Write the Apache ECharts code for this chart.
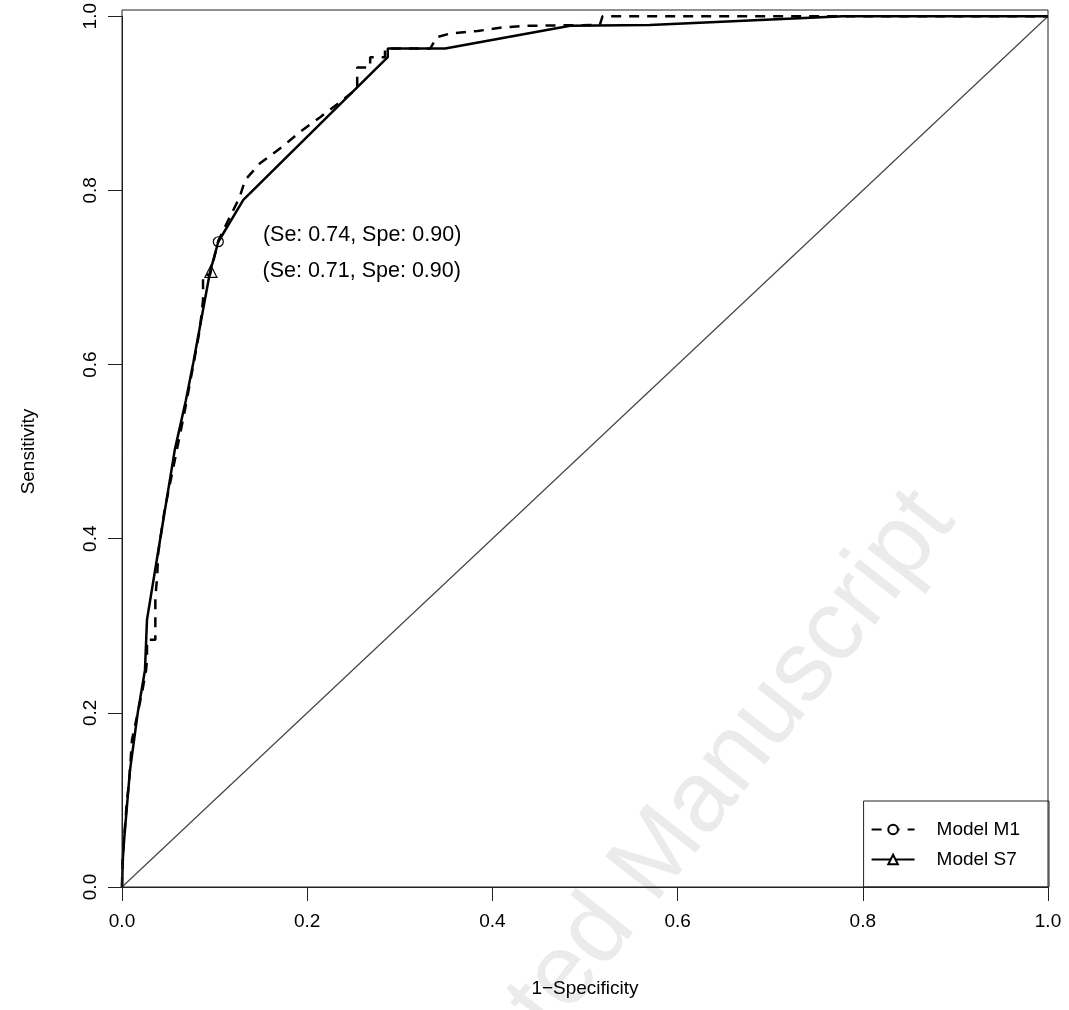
<!DOCTYPE html>
<html>
<head>
<meta charset="utf-8">
<script src="https://cdn.jsdelivr.net/npm/echarts@6/dist/echarts.min.js"></script>
<style>
  html, body { margin: 0; padding: 0; background: #fff; }
  #main { width: 1069px; height: 1010px; }
</style>
</head>
<body>
<div id="main"></div>
<script>
var myChart = echarts.init(document.getElementById('main'));

// tick labels
var xTicks = [0, 0.2, 0.4, 0.6, 0.8, 1.0];
var yTicks = [0, 0.2, 0.4, 0.6, 0.8, 1.0];

// ROC curve of Model M1 (dashed): [1-specificity, sensitivity]
var rocM1 = [
  [0, 0], [0.0005, 0.031], [0.0054, 0.10], [0.0076, 0.119], [0.0108, 0.169],
  [0.0216, 0.223], [0.026, 0.249], [0.027, 0.261], [0.027, 0.284], [0.036, 0.284],
  [0.036, 0.333], [0.038, 0.356], [0.039, 0.383], [0.046, 0.433], [0.057, 0.49],
  [0.068, 0.548], [0.078, 0.605], [0.084, 0.64], [0.0875, 0.674], [0.0875, 0.703],
  [0.095, 0.703], [0.104, 0.742], [0.113, 0.762], [0.127, 0.792], [0.133, 0.812],
  [0.149, 0.831], [0.173, 0.850], [0.192, 0.867], [0.214, 0.884], [0.235, 0.901],
  [0.254, 0.917], [0.254, 0.941], [0.268, 0.941], [0.268, 0.953], [0.284, 0.953],
  [0.284, 0.963], [0.333, 0.963], [0.340, 0.976], [0.354, 0.980], [0.384, 0.983],
  [0.410, 0.987], [0.435, 0.989], [0.516, 0.990], [0.519, 1.0], [1, 1]
];

// ROC curve of Model S7 (solid)
var rocS7 = [
  [0, 0], [0.001, 0.034], [0.0025, 0.057], [0.0086, 0.134], [0.017, 0.20],
  [0.0248, 0.249], [0.027, 0.307], [0.041, 0.398], [0.057, 0.502], [0.069, 0.559],
  [0.077, 0.602], [0.095, 0.706], [0.104, 0.741], [0.131, 0.789], [0.287, 0.953],
  [0.287, 0.963], [0.349, 0.963], [0.484, 0.989], [0.570, 0.990], [0.779, 1.0],
  [1, 1]
];

// chance line
var chance = [[0, 0], [1, 1]];

// best thresholds
var thrM1 = [0.104, 0.741];
var thrS7 = [0.096, 0.707];
var thrM1Text = '(Se: 0.74, Spe: 0.90)';
var thrS7Text = '(Se: 0.71, Spe: 0.90)';

var font = 'Liberation Sans, Arial, Helvetica, sans-serif';

option = {
  animation: false,
  backgroundColor: '#fff',
  textStyle: { fontFamily: font },
  grid: { left: 122, right: 21, top: 16, bottom: 123 },
  graphic: [
    {
      type: 'text',
      z: -10,
      x: 935, y: 504,
      rotation: 0.904,
      style: {
        text: 'Accepted Manuscript',
        font: '100px ' + font,
        fill: '#ebebeb',
        align: 'right',
        verticalAlign: 'middle'
      }
    },
    {
      type: 'rect',
      z: 100,
      shape: { x: 122, y: 10, width: 926, height: 877 },
      style: { fill: 'none', stroke: '#222', lineWidth: 1 }
    }
  ],
  legend: {
    orient: 'vertical',
    right: 20,
    bottom: 123,
    data: ['Model M1', 'Model S7'],
    backgroundColor: '#fff',
    borderColor: '#222',
    borderWidth: 1,
    borderRadius: 0,
    padding: [19, 29, 18, 7],
    itemWidth: 43,
    itemHeight: 12,
    itemGap: 11,
    textStyle: { fontSize: 19, color: '#000', fontFamily: font, padding: [0, 0, 0, 17] }
  },
  xAxis: {
    type: 'value',
    min: 0, max: 1, interval: 0.2,
    name: '1\u2212Specificity',
    nameLocation: 'middle',
    nameGap: 92,
    nameTextStyle: { fontSize: 19, color: '#000' },
    splitLine: { show: false },
    axisLine: { show: true, onZero: false, lineStyle: { color: '#222' } },
    axisTick: { show: true, length: 14, lineStyle: { color: '#222' } },
    axisLabel: {
      fontSize: 19, color: '#000', margin: 25,
      formatter: function (v) { return v.toFixed(1); }
    }
  },
  yAxis: {
    type: 'value',
    min: 0, max: 1, interval: 0.2,
    name: 'Sensitivity',
    nameLocation: 'middle',
    nameGap: 84,
    nameRotate: 90,
    nameTextStyle: { fontSize: 19, color: '#000' },
    splitLine: { show: false },
    axisLine: { show: true, onZero: false, lineStyle: { color: '#222' } },
    axisTick: { show: true, length: 14, lineStyle: { color: '#222' } },
    axisLabel: {
      fontSize: 19, color: '#000', margin: 22, rotate: 90,
      formatter: function (v) { return v.toFixed(1); }
    }
  },
  series: [
    {
      name: 'chance',
      type: 'line',
      data: chance,
      symbol: 'none',
      lineStyle: { color: '#444', width: 1.2 },
      z: 1
    },
    {
      name: 'Model M1',
      type: 'line',
      data: rocM1,
      symbol: 'emptyCircle',
      symbolSize: 9,
      showSymbol: false,
      itemStyle: { color: '#000', borderColor: '#000' },
      lineStyle: { color: '#000', width: 2.5, type: [10, 8] },
      z: 3
    },
    {
      name: 'Model S7',
      type: 'line',
      data: rocS7,
      symbol: 'emptyTriangle',
      symbolSize: 12,
      showSymbol: false,
      itemStyle: { color: '#000', borderColor: '#000' },
      lineStyle: { color: '#000', width: 2.5 },
      z: 3
    },
    {
      name: 'thrM1',
      type: 'scatter',
      data: [thrM1],
      symbol: 'circle',
      symbolSize: 10,
      itemStyle: { color: 'rgba(255,255,255,0)', borderColor: '#000', borderWidth: 1.2, opacity: 1 },
      label: {
        show: true, position: 'right', distance: 39, offset: [0, -7],
        formatter: thrM1Text, fontSize: 21.5, color: '#000', fontFamily: font
      },
      z: 4
    },
    {
      name: 'thrS7',
      type: 'scatter',
      data: [thrS7],
      symbol: 'triangle',
      symbolSize: 12,
      itemStyle: { color: 'rgba(255,255,255,0)', borderColor: '#000', borderWidth: 1.2, opacity: 1 },
      label: {
        show: true, position: 'right', distance: 45,
        formatter: thrS7Text, fontSize: 21.5, color: '#000', fontFamily: font
      },
      z: 4
    }
  ]
};

myChart.setOption(option);
window.onresize = myChart.resize;
</script>
</body>
</html>
